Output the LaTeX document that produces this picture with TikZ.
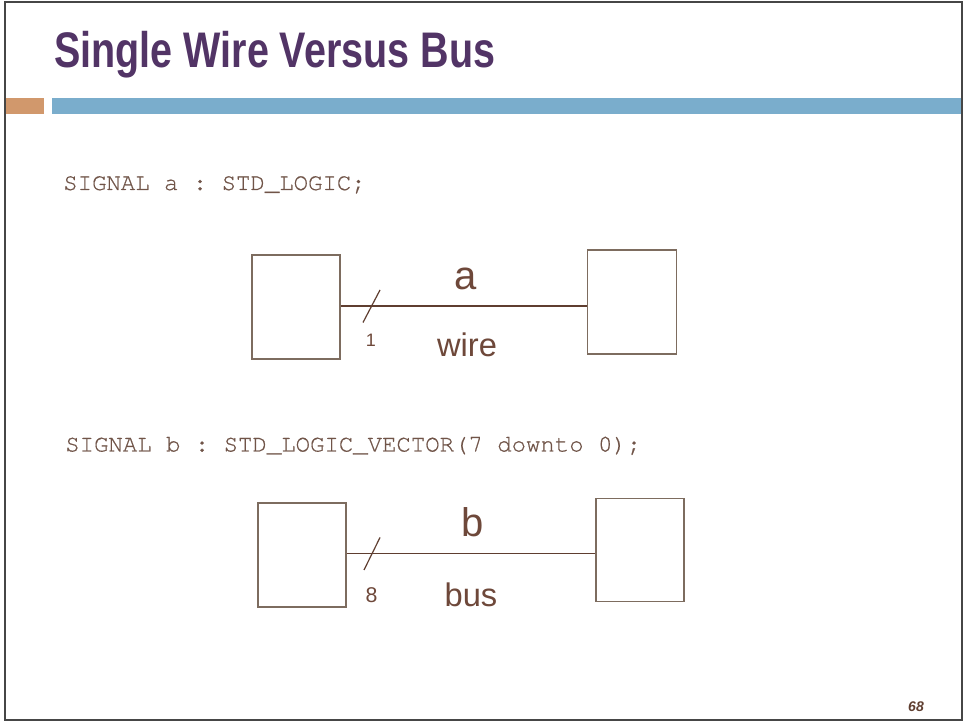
\documentclass[tikz,border=0pt]{standalone}
\usepackage{fontspec}
\setmainfont{Liberation Sans}
\newfontfamily\titlefont[FakeStretch=0.79]{Liberation Sans}
\newfontfamily\codefont[FakeBold=0.5]{texgyrecursor-regular.otf}
\definecolor{titlepurple}{RGB}{82,52,102}
\definecolor{accentorange}{RGB}{209,152,108}
\definecolor{accentblue}{RGB}{122,173,204}
\definecolor{framegray}{RGB}{70,70,70}
\definecolor{labelbrown}{RGB}{110,72,58}
\definecolor{codebrown}{RGB}{112,84,72}
\definecolor{boxline}{RGB}{125,108,95}
\definecolor{wirebrown}{RGB}{95,62,48}
\tikzset{
  blockbox/.style={draw=boxline, line width=1.1pt, fill=none},
  wireline/.style={draw=wirebrown, line width=1.0pt},
  slashline/.style={draw=wirebrown, line width=0.9pt},
  codetext/.style={inner sep=0pt, anchor=base west, text=codebrown, font=\codefont\frenchspacing\fontsize{18}{20}\selectfont},
  siglabel/.style={inner sep=0pt, anchor=base, text=labelbrown, font=\rmfamily\fontsize{30}{34}\selectfont},
  kindlabel/.style={inner sep=0pt, anchor=base, text=labelbrown, font=\rmfamily\fontsize{24.5}{28}\selectfont},
  widthlabel/.style={inner sep=0pt, anchor=base, text=labelbrown},
}
\begin{document}
\begin{tikzpicture}[x=0.75pt, y=-0.75pt]
\useasboundingbox (0,0) rectangle (965,723);
\fill[white] (0,0) rectangle (965,723);

% slide frame
\draw[framegray, line width=2.2pt] (5,2) rectangle (962,720);

% title and header bars
\node[inner sep=0pt, anchor=base west, text=titlepurple,
      font=\titlefont\bfseries\fontsize{37.5}{40}\selectfont] (title) at (54,68) {Single Wire Versus Bus};
\fill[accentorange] (6,98) rectangle (44,114);
\fill[accentblue] (52,98) rectangle (961,114);

% declarations
\node[codetext] (decla) at (63,190) {SIGNAL a : STD\_LOGIC;};
\node[codetext] (declb) at (65,451.5) {SIGNAL b : STD\_LOGIC\_VECTOR(7 downto 0);};

% single wire
\node[blockbox, minimum width=66pt, minimum height=78pt, inner sep=0pt] (srcA) at (296,307) {};
\node[blockbox, minimum width=66.5pt, minimum height=78pt, inner sep=0pt] (dstA) at (632,302) {};
\coordinate (wa) at (srcA.east |- 0,306);
\draw[wireline] (wa) -- (wa -| dstA.west);
\coordinate (sa1) at (363,322.5);
\coordinate (sa2) at (380,290);
\draw[slashline] (sa1) -- (sa2);
\node[siglabel] (la) at (466,290) {a};
\node[kindlabel] (lwire) at (467,357) {wire};
\node[widthlabel, font=\rmfamily\fontsize{13.5}{15}\selectfont] (wa1) at (371,347) {1};

% bus
\node[blockbox, minimum width=66pt, minimum height=78pt, inner sep=0pt] (srcB) at (302,555) {};
\node[blockbox, minimum width=66pt, minimum height=77.5pt, inner sep=0pt] (dstB) at (640,550) {};
\coordinate (wb) at (srcB.east |- 0,553.5);
\draw[wireline] (wb) -- (wb -| dstB.west);
\coordinate (sb1) at (364,570);
\coordinate (sb2) at (380,537.5);
\draw[slashline] (sb1) -- (sb2);
\node[siglabel] (lb) at (473,536.5) {b};
\node[kindlabel] (lbus) at (471,606.5) {bus};
\node[widthlabel, font=\rmfamily\fontsize{16}{18}\selectfont] (wb8) at (371.5,603) {8};

% page number
\node[inner sep=0pt, anchor=base, text=wirebrown, font=\rmfamily\bfseries\itshape\fontsize{10.5}{12}\selectfont] (pg) at (916,711.5) {68};
\end{tikzpicture}
\end{document}
